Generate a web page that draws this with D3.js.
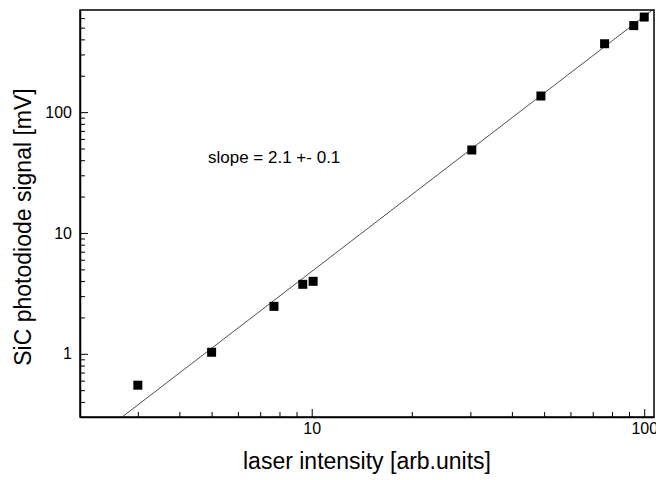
<!DOCTYPE html>
<html>
<head>
<meta charset="utf-8">
<script src="https://cdn.jsdelivr.net/npm/d3@7"></script>
<style>
  body { margin: 0; background: #fff; }
  text { font-family: "Liberation Sans", Arial, sans-serif; fill: #000; }
  .axis path, .axis line { stroke: #000; }
</style>
</head>
<body>
<svg width="656" height="480"></svg>
<script>
// measured points
let intensity = [3.0, 5.0, 7.7, 9.4, 10.1, 30.3, 48.9, 76, 93, 100];
let signal = [0.55, 1.03, 2.47, 3.76, 3.98, 48.6, 136, 368, 520, 612];

// fitted power law, slope 2.1
let fitX = [2.69, 110];
let fitY = [0.3, 760];

let xMajor = [10, 100];
let yMajor = [1, 10, 100];

let svg = d3.select("svg"),
    plotL = 80, plotR = 654, plotT = 10, plotB = 417;

let x = d3.scaleLog().domain([2.01, 107]).range([plotL, plotR]);
let y = d3.scaleLog().domain([0.3, 700]).range([plotB, plotT]);

let minorX = [2, 3, 4, 5, 6, 7, 8, 9, 20, 30, 40, 50, 60, 70, 80, 90]
    .filter(v => v >= x.domain()[0] && v <= x.domain()[1]);
let minorY = [0.3, 0.4, 0.5, 0.6, 0.7, 0.8, 0.9, 2, 3, 4, 5, 6, 7, 8, 9,
    20, 30, 40, 50, 60, 70, 80, 90, 200, 300, 400, 500, 600, 700]
    .filter(v => v > y.domain()[0] && v < y.domain()[1]);

svg.append("defs").append("clipPath").attr("id", "clip")
    .append("rect")
    .attr("x", plotL).attr("y", plotT)
    .attr("width", plotR - plotL).attr("height", plotB - plotT);

// frame
svg.append("rect")
    .attr("x", plotL).attr("y", plotT)
    .attr("width", plotR - plotL).attr("height", plotB - plotT)
    .attr("fill", "none").attr("stroke", "#000").attr("stroke-width", 1.5);

// minor ticks
svg.append("g")
    .attr("class", "axis")
    .attr("transform", `translate(0,${plotB})`)
    .call(d3.axisBottom(x).tickValues(minorX).tickSize(-5).tickSizeOuter(0).tickFormat(""))
    .call(g => g.select(".domain").remove());

svg.append("g")
    .attr("class", "axis")
    .attr("transform", `translate(${plotL},0)`)
    .call(d3.axisLeft(y).tickValues(minorY).tickSize(-5).tickSizeOuter(0).tickFormat(""))
    .call(g => g.select(".domain").remove());

// major ticks with labels
svg.append("g")
    .attr("class", "axis")
    .attr("transform", `translate(0,${plotB})`)
    .call(d3.axisBottom(x).tickValues(xMajor).tickSize(-8).tickSizeOuter(0)
        .tickPadding(6).tickFormat(d3.format("d")))
    .call(g => g.select(".domain").attr("stroke-width", 1.5))
    .call(g => g.selectAll("text").attr("font-size", 16).attr("font-family", null));

svg.append("g")
    .attr("class", "axis")
    .attr("transform", `translate(${plotL},0)`)
    .call(d3.axisLeft(y).tickValues(yMajor).tickSize(-8).tickSizeOuter(0)
        .tickPadding(8).tickFormat(d3.format("d")))
    .call(g => g.select(".domain").attr("stroke-width", 1.5))
    .call(g => g.selectAll("text").attr("font-size", 16).attr("font-family", null));

// fit line
let line = d3.line()
    .x(d => x(d[0]))
    .y(d => y(d[1]));

svg.append("path")
    .datum(d3.zip(fitX, fitY))
    .attr("clip-path", "url(#clip)")
    .attr("d", line)
    .attr("fill", "none")
    .attr("stroke", "#222")
    .attr("stroke-width", 0.8);

// data squares
let s = 9;
svg.append("g")
    .selectAll("rect")
    .data(d3.zip(intensity, signal))
    .join("rect")
    .attr("x", d => x(d[0]) - s / 2)
    .attr("y", d => y(d[1]) - s / 2)
    .attr("width", s)
    .attr("height", s)
    .attr("fill", "#000");

// annotation
svg.append("text")
    .attr("x", 208).attr("y", 163)
    .attr("font-size", 17)
    .text("slope = 2.1 +- 0.1");

// axis titles
svg.append("text")
    .attr("x", (plotL + plotR) / 2).attr("y", 469)
    .attr("text-anchor", "middle")
    .attr("font-size", 23)
    .text("laser intensity [arb.units]");

svg.append("text")
    .attr("transform", "translate(31,227) rotate(-90)")
    .attr("text-anchor", "middle")
    .attr("font-size", 23)
    .text("SiC photodiode signal [mV]");
</script>
</body>
</html>
